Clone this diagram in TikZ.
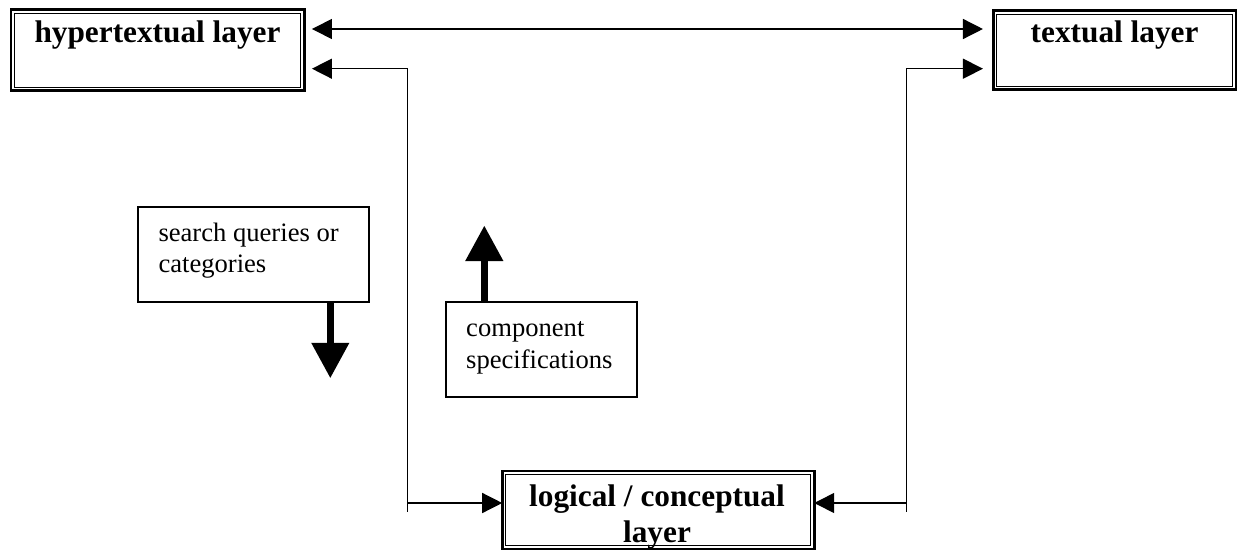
\documentclass[tikz,border=0pt]{standalone}
\usepackage{fontspec}
\setmainfont{Liberation Serif}
\usetikzlibrary{arrows.meta,calc}

% type sizes of the layer boxes and of the note boxes
\newcommand\layerfont{\fontsize{31.3pt}{36pt}\selectfont\bfseries}
\newcommand\notefont{\fontsize{26.6pt}{30pt}\selectfont}

\begin{document}
\begin{tikzpicture}[x=1pt,y=-1pt,
  >={Triangle[length=20pt,width=20pt]},
  layerbox/.style={draw,line width=2.6pt,inner sep=0pt,outer sep=0pt},
  notebox/.style={draw,line width=1.7pt,inner sep=0pt,outer sep=0pt},
  layertext/.style={anchor=base,font=\layerfont,inner sep=0pt},
  notetext/.style={anchor=base west,font=\notefont,inner sep=0pt},
  conn/.style={line width=1.4pt},
  bigarrow/.style={line width=7.5pt,-{Triangle[length=35.5pt,width=36pt]}}]

\useasboundingbox (0,0) rectangle (1241,551);

% the three layers, each framed by a thick and a thin line
\node[layerbox,minimum width=293.5pt,minimum height=81pt] (hyper) at (157.7,50.2) {};
\node[layerbox,minimum width=242.7pt,minimum height=79pt] (textual) at (1114.6,50.2) {};
\node[layerbox,minimum width=312pt,minimum height=78pt] (logic) at (658.2,510) {};
\foreach \b in {hyper,textual,logic}
  \draw[line width=1pt] ([shift={(3.7pt,-3.7pt)}]\b.north west)
    rectangle ([shift={(-3.7pt,3.7pt)}]\b.south east);

\node[layertext] (hyperlabel) at (157.5,42) {hypertextual layer};
\node[layertext] (textuallabel) at (1114.6,42) {textual layer};
\node[layertext] (logiclabelA) at (657,506) {logical / conceptual};
\node[layertext] (logiclabelB) at (657,542) {layer};

% the two notes with their heavy arrows
\node[notebox,minimum width=231.1pt,minimum height=94.7pt] (query) at (253.75,254.35) {};
\node[notetext] (queryA) at (158.3,241.7) {search queries or};
\node[notetext] (queryB) at (158.3,272) {categories};

\node[notebox,minimum width=191.2pt,minimum height=94.7pt] (comp) at (541.4,349.35) {};
\node[notetext] (compA) at (466,336.7) {component};
\node[notetext] (compB) at (466,368) {specifications};

\coordinate (qtip) at (330.3,378.3);
\coordinate (ctip) at (484.3,225.5);
\draw[bigarrow] (query.south -| qtip) -- (qtip);
\draw[bigarrow] (comp.north -| ctip) -- (ctip);

% connectors between the layers
\coordinate (r1) at (0,29);
\coordinate (r2) at (0,68.7);
\coordinate (r3) at (0,503);
\coordinate (vl) at (407.5,511.5);
\coordinate (vr) at (906.5,511.5);
\coordinate (ha) at ([xshift=7.5pt]hyper.east);
\coordinate (ta) at ([xshift=-10.3pt]textual.west);

\draw[conn,<->] (ha |- r1) -- (ta |- r1);
\draw[conn,<-] (ha |- r2) -- (vl |- r2) -- (vl);
\draw[conn,<-] (ta |- r2) -- (vr |- r2) -- (vr);
\draw[conn,->] (vl |- r3) -- (logic.west |- r3);
\draw[conn,->] (vr |- r3) -- (logic.east |- r3);
\end{tikzpicture}
\end{document}
